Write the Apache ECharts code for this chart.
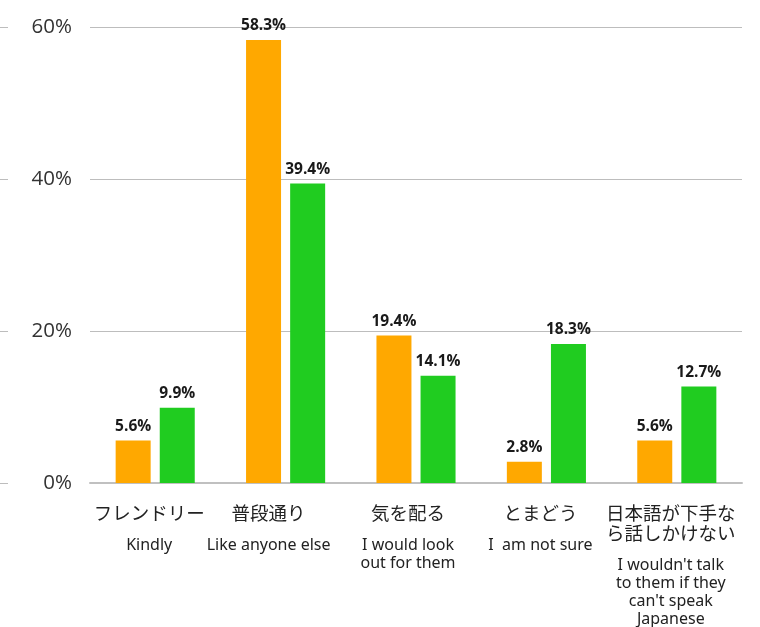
<!DOCTYPE html>
<html>
<head>
<meta charset="utf-8">
<script src="https://cdn.jsdelivr.net/npm/echarts@6/dist/echarts.min.js"></script>
<style>
  html, body { margin: 0; padding: 0; background: #fff; }
  #chart { width: 760px; height: 627px; }
</style>
</head>
<body>
<div id="chart"></div>
<script>
// Answer categories: Japanese wording and English gloss
var categoriesJa = ['フレンドリー', '普段通り', '気を配る', 'とまどう', '日本語が下手な\nら話しかけない'];
var categoriesEn = ['Kindly', 'Like anyone else', 'I would look\nout for them', 'I  am not sure', "I wouldn't talk\nto them if they\ncan't speak\nJapanese"];

// Share of respondents (%) for the two groups
var seriesOrange = [5.6, 58.3, 19.4, 2.8, 5.6];
var seriesGreen = [9.9, 39.4, 14.1, 18.3, 12.7];

// Value axis ticks
var yTicks = [0, 20, 40, 60];

// Category labels sit a little left of the bar pair; the second one more so
var labelShiftRight = [12, 34, 16, 12, 12];

var cats = categoriesJa.map(function (_, i) {
  return { value: String(i), textStyle: { padding: [0, labelShiftRight[i], 0, 0] } };
});

function labelFor(idx) {
  var i = Number(idx);
  var ja = categoriesJa[i].split('\n').map(function (s) { return '{ja|' + s + '}'; }).join('\n');
  var en = categoriesEn[i].split('\n').map(function (s) { return '{en|' + s + '}'; }).join('\n');
  return ja + '\n{sp| }\n' + en;
}

var chart = echarts.init(document.getElementById('chart'), null, { renderer: 'canvas' });

var valueLabel = {
  show: true,
  position: 'top',
  distance: 6,
  formatter: function (p) { return p.value.toFixed(1) + '%'; },
  fontFamily: 'Open Sans, Noto Sans, sans-serif',
  fontWeight: 'bold',
  fontSize: 15.5,
  color: '#1a1a1a'
};

chart.setOption({
  animation: false,
  grid: { left: 90, right: 18, top: 27, bottom: 144 },
  xAxis: {
    type: 'category',
    data: cats,
    axisLine: { show: true, lineStyle: { color: '#c0c0c0', width: 2 } },
    axisTick: { show: false },
    axisLabel: {
      margin: 20,
      interval: 0,
      formatter: labelFor,
      align: 'center',
      rich: {
        ja: { fontFamily: 'Noto Sans CJK JP', fontSize: 18.5, lineHeight: 20, color: '#222' },
        en: { fontFamily: 'Noto Sans, Noto Sans CJK JP', fontSize: 16, lineHeight: 18, color: '#222' },
        sp: { fontSize: 6, lineHeight: 13 }
      }
    }
  },
  yAxis: [
    {
      type: 'value',
      min: yTicks[0],
      max: yTicks[yTicks.length - 1],
      interval: yTicks[1] - yTicks[0],
      axisLine: { show: false },
      axisTick: { show: false },
      axisLabel: {
        margin: 18,
        formatter: '{value}%',
        fontFamily: 'Open Sans, Noto Sans, sans-serif',
        fontSize: 20.5,
        color: '#333'
      },
      splitLine: { show: true, lineStyle: { color: '#bdbdbd', width: 1 } }
    },
    {
      type: 'value',
      position: 'left',
      offset: 82,
      min: yTicks[0],
      max: yTicks[yTicks.length - 1],
      interval: yTicks[1] - yTicks[0],
      axisLine: { show: false },
      axisTick: { show: true, length: 8, lineStyle: { color: '#bdbdbd' } },
      axisLabel: { show: false },
      splitLine: { show: false }
    }
  ],
  series: [
    {
      type: 'bar',
      data: seriesOrange,
      barWidth: 35,
      barGap: '26%',
      itemStyle: { color: '#FFA800' },
      label: valueLabel
    },
    {
      type: 'bar',
      data: seriesGreen,
      barWidth: 35,
      itemStyle: { color: '#20CC20' },
      label: valueLabel
    }
  ]
});
</script>
</body>
</html>
